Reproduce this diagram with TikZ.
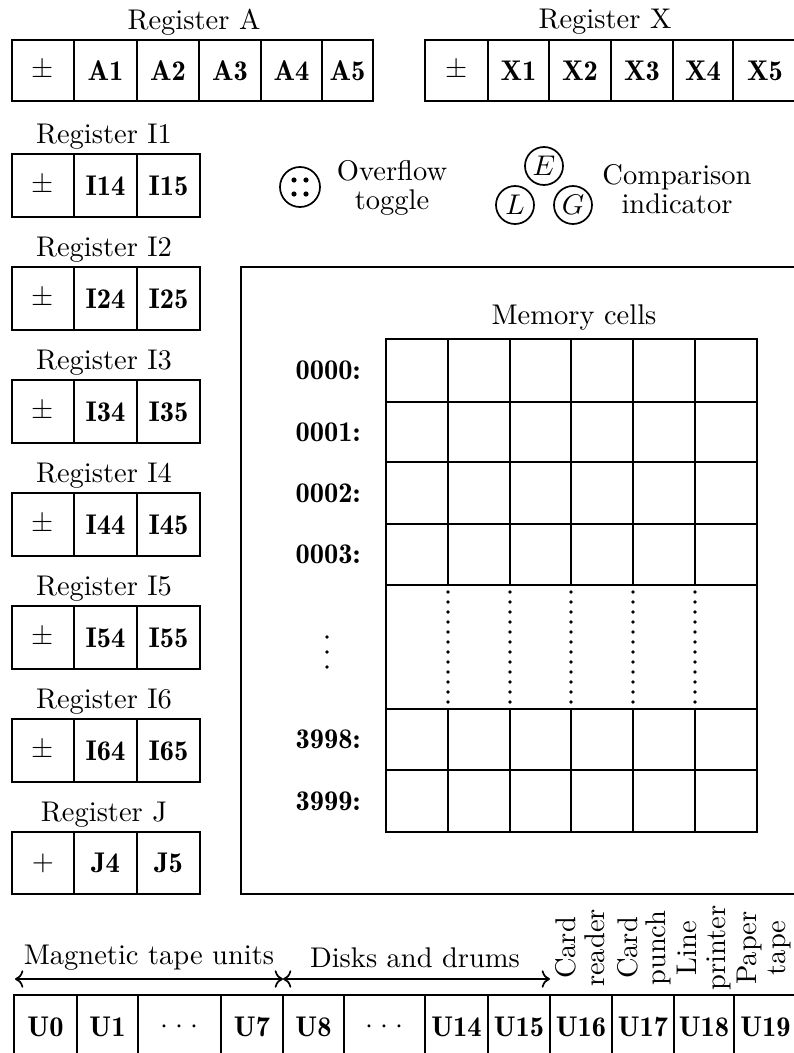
\documentclass[tikz,border=0pt]{standalone}
\usetikzlibrary{arrows.meta}
\newcommand\px{0.351pt}
\begin{document}
\begin{tikzpicture}[x=0.351pt,y=-0.351pt,line width=0.6pt,
  cell/.style={draw, inner sep=0pt, font=\fontseries{b}\selectfont},
  memcell/.style={draw, inner sep=0pt},
  lbl/.style={font=\fontseries{b}\selectfont},
  dotmark/.style={fill=black},
  twoline/.style={align=center, font=\fontsize{10}{10}\selectfont},
  rangearrow/.style={{Computer Modern Rightarrow}-{Computer Modern Rightarrow}}]
\useasboundingbox (0,0) rectangle (794,1053);
\clip (0,0) rectangle (794,1053);

% Register A
\node (tA) at (194,22) {Register A};
\foreach \xa/\xb/\t/\n in {12/74/{$\pm$}/As,74/137/A1/A1,137/199/A2/A2,199/261/A3/A3,261/322/A4/A4,322/373/A5/A5}
  \node[cell, minimum width=(\xb-\xa)*\px, minimum height=61*\px] (\n) at ({(\xa+\xb)/2},70.5) {\t};

% Register X
\node (tX) at (605,22) {Register X};
\foreach \xa/\xb/\t/\n in {425/488/{$\pm$}/Xs,488/549/X1/X1,549/611/X2/X2,611/673/X3/X3,673/733/X4/X4,733/797/X5/X5}
  \node[cell, minimum width=(\xb-\xa)*\px, minimum height=61*\px] (\n) at ({(\xa+\xb)/2},70.5) {\t};

% Index registers
\foreach \k/\yt in {1/154,2/267,3/380,4/493,5/606,6/719}{
  \node (tI\k) at (104,\yt-17) {Register I\k};
  \node[cell, minimum width=62*\px, minimum height=63*\px] (I\k s) at (43,\yt+31.5) {$\pm$};
  \node[cell, minimum width=63*\px, minimum height=63*\px] (I\k 4) at (105.5,\yt+31.5) {I\k4};
  \node[cell, minimum width=63*\px, minimum height=63*\px] (I\k 5) at (168.5,\yt+31.5) {I\k5};
}
% Register J
\node (tJ) at (104,815) {Register J};
\node[cell, minimum width=62*\px, minimum height=62*\px] (Js) at (43,863) {$+$};
\node[cell, minimum width=63*\px, minimum height=62*\px] (J4) at (105.5,863) {J4};
\node[cell, minimum width=63*\px, minimum height=62*\px] (J5) at (168.5,863) {J5};

% Overflow toggle
\node[draw, circle, minimum size=40*\px, inner sep=0pt] (ovf) at (300,187) {};
\foreach \dx/\dy in {-6/-7,6/-7,-6/7,6/7}
  \fill[dotmark] ([shift={(\dx,\dy)}]ovf.center) circle (2.6);
\node[twoline] (ovft) at (392,188) {Overflow\\toggle};

% Comparison indicator
\node[draw, circle, minimum size=38*\px, inner sep=0pt] (cE) at (544,166) {$E$};
\node[draw, circle, minimum size=38*\px, inner sep=0pt] (cL) at (515,205) {$L$};
\node[draw, circle, minimum size=38*\px, inner sep=0pt] (cG) at (573,205) {$G$};
\node[twoline] (cmpt) at (677,189) {Comparison\\indicator};

% Memory
\node[draw, minimum width=570*\px, minimum height=627*\px, anchor=north west, inner sep=0pt] (mem) at (240,266) {};
\node (memt) at (574,318) {Memory cells};
\foreach \ya/\yb/\lab/\r in {339/402/0000/r0,402/462/0001/r1,462/524/0002/r2,524/585/0003/r3,709/770/3998/ra,770/832/3999/rb}{
  \node[lbl] (lab\r) at (328,{(\ya+\yb)/2}) {\lab:};
  \foreach \xa/\xb/\c in {386/448/1,448/510/2,510/571/3,571/633/4,633/695/5,695/757/6}
    \node[memcell, minimum width=(\xb-\xa)*\px, minimum height=(\yb-\ya)*\px] (\r c\c) at ({(\xa+\xb)/2},{(\ya+\yb)/2}) {};
}
\node[memcell, minimum width=371*\px, minimum height=124*\px] (gap) at (571.5,647) {};
\foreach \x in {448,510,571,633,695}
  \foreach \i in {0,...,11}
    \fill[dotmark] (\x,592+\i*10) circle (1.8);
\foreach \yy in {637,652,667}
  \fill[dotmark] (327,\yy) circle (1.8);

% I/O units
\coordinate (mtL) at (15,979);
\coordinate (mtR) at (283,979);
\coordinate (ddR) at (550,979);
\draw[rangearrow] (mtL) -- (mtR);
\draw[rangearrow] (mtR) -- (ddR);
\node (mtt) at (149,958) {Magnetic tape units};
\node (ddt) at (415,958) {Disks and drums};
\node[twoline, rotate=90] (crt) at (580,948) {Card\\reader};
\node[twoline, rotate=90] (cpt) at (644,948) {Card\\punch};
\node[twoline, rotate=90] (lpt) at (704,948) {Line\\printer};
\node[twoline, rotate=90] (ptt) at (764,948) {Paper\\tape};
\foreach \xa/\xb/\t/\n in {14/77/U0/U0,77/138/U1/U1,138/221/{$\cdot$\hspace{2.6pt}$\cdot$\hspace{2.6pt}$\cdot$}/Ua,221/283/U7/U7,283/344/U8/U8,344/425/{$\cdot$\hspace{2.6pt}$\cdot$\hspace{2.6pt}$\cdot$}/Ub,425/488/U14/U14,488/550/U15/U15,550/612/U16/U16,612/674/U17/U17,674/734/U18/U18,734/797/U19/U19}
  \node[cell, minimum width=(\xb-\xa)*\px, minimum height=64*\px] (\n) at ({(\xa+\xb)/2},1027) {\t};
\end{tikzpicture}
\end{document}
